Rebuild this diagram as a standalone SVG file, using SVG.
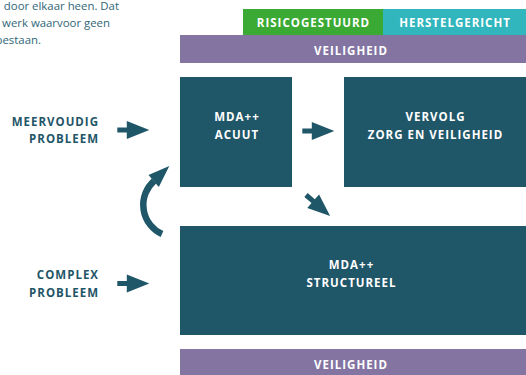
<svg xmlns="http://www.w3.org/2000/svg" width="526" height="375" viewBox="0 0 526 375">
<style>
.box{fill:#1f5668}
.band-g{fill:#3aaa35}
.band-t{fill:#30b6bc}
.band-p{fill:#8374a2}
.wt{font-family:"Open Sans","Liberation Sans",sans-serif;font-weight:bold;font-size:11.5px;letter-spacing:1px;fill:#ffffff;text-anchor:middle}
.lb{font-family:"Open Sans","Liberation Sans",sans-serif;font-weight:bold;font-size:11.5px;letter-spacing:1px;fill:#1f5668;text-anchor:end}
.note{font-family:"Open Sans","Liberation Sans",sans-serif;font-size:11.4px;fill:#2f6677;text-anchor:end}
.arr{fill:#1f5668}
</style>
<defs>
<path id="arrow" d="M0,-2.5 H9.5 V-9 L32,0 L9.5,9 V2.5 H0 Z"/>
</defs>
<g id="note">
<text class="note" x="119" y="9.5">door elkaar heen. Dat</text>
<text class="note" x="110" y="26.8">werk waarvoor geen</text>
<text class="note" x="41" y="43.5">bestaan.</text>
</g>
<g id="risicogestuurd">
<rect class="band-g" x="243" y="9" width="140" height="26"/>
<text class="wt" x="313.5" y="27.3">RISICOGESTUURD</text>
</g>
<g id="herstelgericht">
<rect class="band-t" x="383" y="9" width="143" height="26"/>
<text class="wt" x="455" y="27.3">HERSTELGERICHT</text>
</g>
<g id="veiligheid-top">
<rect class="band-p" x="180" y="35" width="346" height="28"/>
<text class="wt" x="351" y="55">VEILIGHEID</text>
</g>
<g id="mda-acuut">
<rect class="box" x="180" y="77" width="112" height="110"/>
<text class="wt" x="237" y="121">MDA++</text>
<text class="wt" x="237" y="139">ACUUT</text>
</g>
<g id="vervolg">
<rect class="box" x="344" y="77" width="182" height="110"/>
<text class="wt" x="435.5" y="121">VERVOLG</text>
<text class="wt" x="435.5" y="139">ZORG EN VEILIGHEID</text>
</g>
<g id="mda-structureel">
<rect class="box" x="180" y="226" width="346" height="109"/>
<text class="wt" x="351.5" y="269">MDA++</text>
<text class="wt" x="351.5" y="287">STRUCTUREEL</text>
</g>
<g id="veiligheid-bottom">
<rect class="band-p" x="180" y="349" width="346" height="26"/>
<text class="wt" x="351" y="368.7">VEILIGHEID</text>
</g>
<g id="meervoudig">
<text class="lb" x="99" y="125.7">MEERVOUDIG</text>
<text class="lb" x="99" y="143.3">PROBLEEM</text>
</g>
<g id="complex">
<text class="lb" x="99" y="279.3">COMPLEX</text>
<text class="lb" x="99" y="296.7">PROBLEEM</text>
</g>
<g id="connectors">
<use href="#arrow" class="arr" transform="translate(117.3,130)"/>
<use href="#arrow" class="arr" transform="translate(117.3,283.5)"/>
<use href="#arrow" class="arr" transform="translate(302.3,131)"/>
<use href="#arrow" class="arr" transform="translate(306,195) rotate(41)"/>
<path d="M162,234 A32,32 0 0 1 154,181" fill="none" stroke="#1f5668" stroke-width="6.5"/>
<polygon class="arr" points="169.3,166 148.5,175 158.8,187"/>
</g>
</svg>
